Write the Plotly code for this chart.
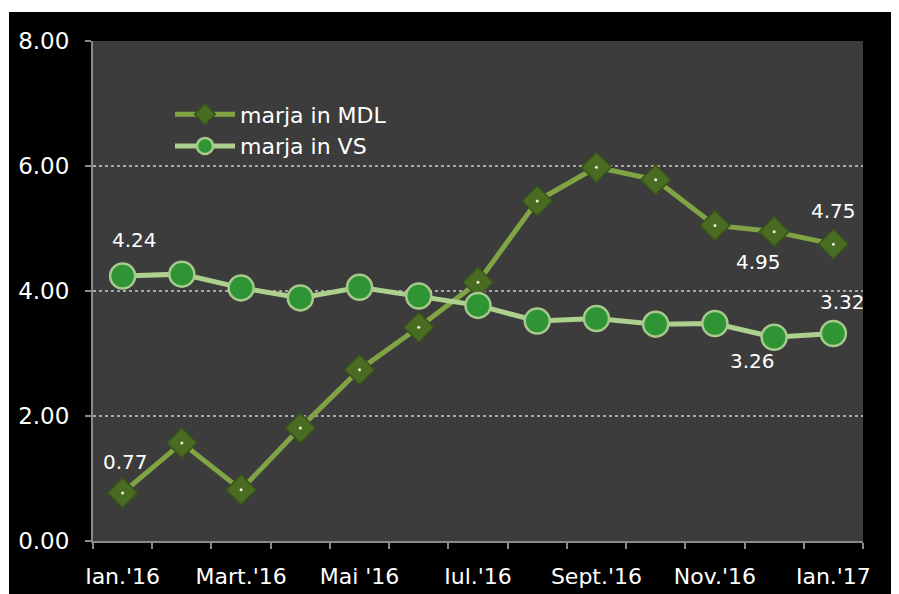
import plotly.graph_objects as go

months = ["Jan 16", "Feb 16", "Mar 16", "Apr 16", "May 16", "Jun 16", "Jul 16",
          "Aug 16", "Sep 16", "Oct 16", "Nov 16", "Dec 16", "Jan 17"]
tick_labels = ["Ian.'16", "", "Mart.'16", "", "Mai '16", "", "Iul.'16", "",
               "Sept.'16", "", "Nov.'16", "", "Ian.'17"]
marja_mdl = [0.77, 1.57, 0.82, 1.81, 2.74, 3.42, 4.14, 5.44, 5.98, 5.78, 5.05, 4.95, 4.75]
marja_vs = [4.24, 4.27, 4.05, 3.89, 4.06, 3.92, 3.77, 3.52, 3.56, 3.47, 3.48, 3.26, 3.32]
# labelled points: (series, month index, label text, x offset px, y offset px)
value_labels = [
    ("mdl", 0, "0.77", 3, 31),
    ("mdl", 11, "4.95", -16, -30),
    ("mdl", 12, "4.75", 0, 33),
    ("vs", 0, "4.24", 12, 36),
    ("vs", 11, "3.26", -22, -24),
    ("vs", 12, "3.32", 9, 32),
]

FONT = "DejaVu Sans, Verdana, sans-serif"

fig = go.Figure()
fig.add_trace(go.Scatter(
    x=months, y=marja_mdl, name="marja in MDL", mode="lines+markers",
    line=dict(color="#80a443", width=5),
    marker=dict(symbol="diamond", size=23, color="#4a6b22",
                line=dict(color="#37521a", width=1.5)),
))
fig.add_trace(go.Scatter(
    x=months, y=marja_vs, name="marja in VS", mode="lines+markers",
    line=dict(color="#aed08f", width=5),
    marker=dict(symbol="circle", size=25, color="#2e9434",
                line=dict(color="#a6c98c", width=2.5)),
))
fig.add_trace(go.Scatter(
    x=months, y=marja_mdl, mode="markers", showlegend=False, hoverinfo="skip",
    marker=dict(symbol="circle", size=3, color="#e8f0d8"),
))

series = {"mdl": marja_mdl, "vs": marja_vs}
for s, i, txt, dx, dy in value_labels:
    fig.add_annotation(x=months[i], y=series[s][i], text=txt, showarrow=False,
                       xshift=dx, yshift=dy,
                       font=dict(color="white", size=20, family=FONT))

# page body has an 8px margin; figure sized to fit the window
W, H = 891, 586
L, R, T, B = 85, 36, 33, 53
pw, ph = W - L - R, H - T - B
fig.add_shape(type="rect", xref="paper", yref="paper", layer="below",
              x0=(1 - L) / pw, x1=(W + 10 - L) / pw,
              y0=-(B + 10) / ph, y1=(H - B - 4) / ph,
              fillcolor="black", line=dict(width=0))
fig.add_shape(type="rect", xref="paper", yref="paper", layer="below",
              x0=0, x1=1, y0=0, y1=1, fillcolor="#3c3c3c", line=dict(width=0))

fig.update_layout(
    width=W, height=H,
    margin=dict(l=L, r=R, t=T, b=B, autoexpand=False),
    paper_bgcolor="white", plot_bgcolor="#3c3c3c",
    font=dict(family=FONT, color="white", size=22),
    legend=dict(x=0.1, y=0.895, xanchor="left", yanchor="top",
                bgcolor="rgba(0,0,0,0)", font=dict(size=22, color="white"),
                itemwidth=60, tracegroupgap=0),
    showlegend=True,
)
fig.update_xaxes(
    type="category", tickmode="array", tickvals=months, ticktext=tick_labels,
    tickson="boundaries", ticks="outside", ticklen=6, tickcolor="#8a8a8a", tickwidth=2,
    showline=True, linecolor="#8a8a8a", linewidth=2, showgrid=False, tickangle=0,
    ticklabelstandoff=15,
    tickfont=dict(size=22, color="white", family=FONT), range=[-0.5, 12.5],
)
fig.update_yaxes(
    range=[0, 8], tickvals=[0, 2, 4, 6, 8], tickformat=".2f",
    showgrid=True, gridcolor="#a8a8a8", griddash="dot", gridwidth=2,
    showline=True, linecolor="#8a8a8a", linewidth=2, ticks="outside", ticklen=6,
    tickcolor="#8a8a8a", tickwidth=2, zeroline=False, ticklabelstandoff=11,
    tickfont=dict(size=23, color="white", family=FONT),
)
fig.write_html("out.html")
